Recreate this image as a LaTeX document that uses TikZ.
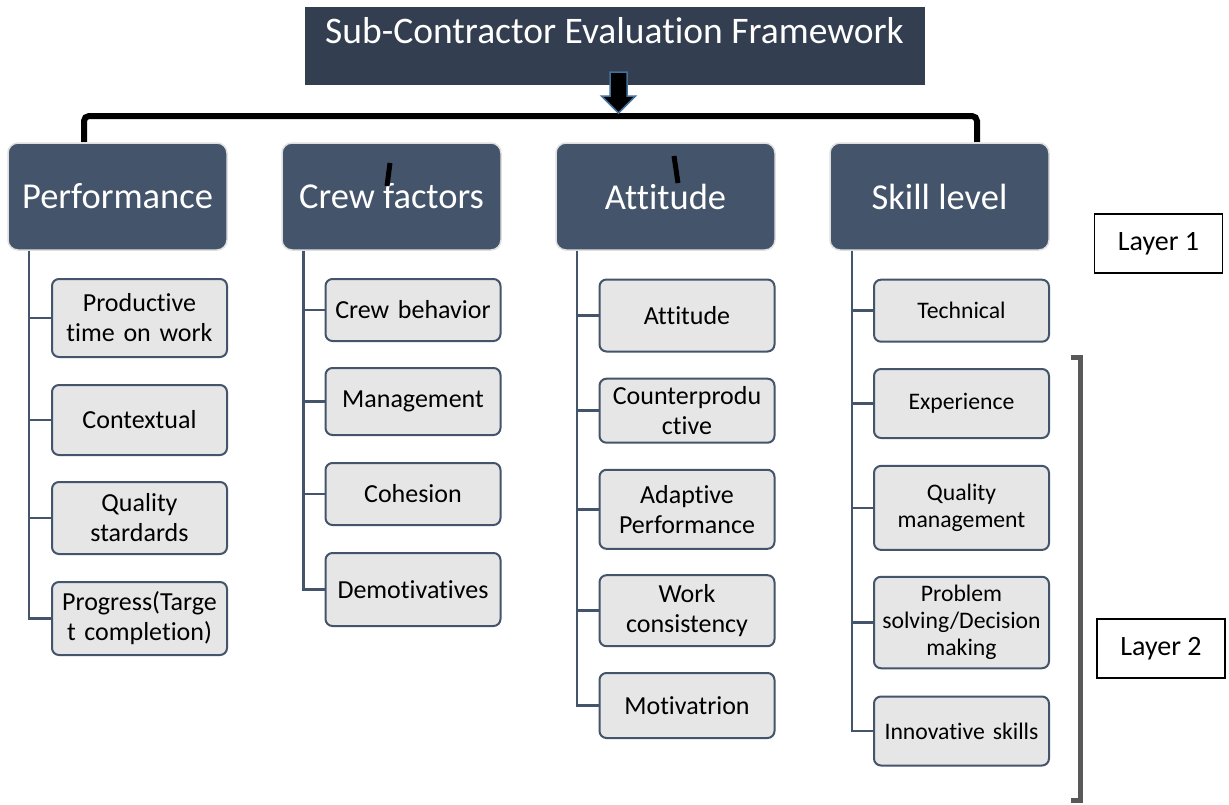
\documentclass[tikz,border=0pt]{standalone}
\usepackage{fontspec}
\setmainfont{Carlito}[Ligatures={NoCommon}]
\definecolor{hdrc}{HTML}{333F50}
\definecolor{catc}{HTML}{44546A}
\definecolor{itemc}{HTML}{E7E6E6}
\definecolor{arrowedge}{HTML}{41719C}
\definecolor{brk}{HTML}{595959}
\begin{document}
\begin{tikzpicture}[x=1pt,y=-1pt,
  hdr/.style={fill=hdrc,text=white,minimum width=620pt,minimum height=78pt,inner sep=0pt,
    text height=36pt,text depth=42pt,font=\fontsize{37.5}{44}\selectfont},
  cat/.style={fill=catc,draw=black!12,line width=1.5pt,rounded corners=10pt,text=white,
    minimum width=219pt,minimum height=107pt,inner sep=0pt,font=\fontsize{36.5}{44}\selectfont},
  item/.style={fill=itemc,draw=catc,line width=2pt,rounded corners=7pt,minimum width=175pt,
    inner sep=0pt,text width=172pt,align=center,font=\fontsize{26}{30}\selectfont},
  sitem/.style={item,font=\fontsize{23.7}{27}\selectfont},
  conn/.style={draw=catc,line width=2.5pt},
  bar/.style={draw=black,line width=6pt,rounded corners=5pt},
  tick/.style={draw=black,line width=5pt},
  layerbox/.style={draw=black,line width=1.5pt,minimum width=128pt,minimum height=59pt,
    inner sep=0pt,font=\fontsize{28}{34}\selectfont},
  bracket/.style={draw=brk,line width=5pt},
  blockarrow/.style={fill=black,draw=arrowedge,line width=1.5pt,line join=miter}
]
\useasboundingbox (0,0) rectangle (1229,804);
\fill[white] (0,0) rectangle (1229,804);

% header
\node[hdr] (H) at (614.5,46) {Sub-Contractor Evaluation Framework};

% bracket bar
\coordinate (bl) at (84,142);
\coordinate (br) at (977,142);
\draw[bar] (bl) -- (84,116) -- (977,116) -- (br);

% block arrow
\coordinate (at) at (618.5,113);
\draw[blockarrow] (610,72) -- (627,72) -- (627,96) -- (635.5,96) -- (at) -- (601.5,96) -- (610,96) -- cycle;

% categories
\node[cat] (P) at (117.5,196.5) {Performance};
\node[cat] (C) at (391.5,196.5) {Crew factors};
\node[cat] (A) at (665.5,196.5) {Attitude};
\node[cat] (S) at (939.5,196.5) {Skill level};

% stray marks
\draw[tick] (390,163) -- (387,186);
\draw[tick] (674,156) -- (678,183);

% Performance items
\node[item,minimum height=78pt] (p1) at (139.5,318) {Productive\\time on work};
\node[item,minimum height=70pt] (p2) at (139.5,420) {Contextual};
\node[item,minimum height=72pt] (p3) at (139.5,518) {Quality\\stardards};
\node[item,minimum height=73pt] (p4) at (139.5,618.5) {Progress(Targe\\t completion)};

% Crew items
\node[item,minimum height=62pt] (c1) at (413,310) {Crew behavior};
\node[item,minimum height=67pt] (c2) at (413,401.5) {Management};
\node[item,minimum height=62pt] (c3) at (413,494) {Cohesion};
\node[item,minimum height=73pt] (c4) at (413,589.5) {Demotivatives};

% Attitude items
\node[item,minimum height=72pt] (a1) at (687,315.5) {Attitude};
\node[item,minimum height=64pt] (a2) at (687,410.7) {Counterprodu\\ctive};
\node[item,minimum height=79pt] (a3) at (687,509.3) {Adaptive\\Performance};
\node[item,minimum height=71pt] (a4) at (687,610.7) {Work\\consistency};
\node[item,minimum height=65pt] (a5) at (687,705.5) {Motivatrion};

% Skill items
\node[sitem,minimum height=62pt] (s1) at (961.5,310.7) {Technical};
\node[sitem,minimum height=69pt] (s2) at (961.5,403.5) {Experience};
\node[sitem,minimum height=84pt] (s3) at (961.5,507.9) {Quality\\management};
\node[sitem,minimum height=91.5pt] (s4) at (961.5,622.5) {Problem\\solving/Decision\\making};
\node[sitem,minimum height=69pt] (s5) at (961.5,731) {Innovative skills};

% connectors
\coordinate (pv) at ([xshift=21.5pt]P.south west);
\coordinate (cv) at ([xshift=22pt]C.south west);
\coordinate (av) at ([xshift=21.5pt]A.south west);
\coordinate (sv) at ([xshift=22.5pt]S.south west);
\draw[conn] (pv) |- (p4.west);
\foreach \n in {p1,p2,p3} \draw[conn] (pv |- \n.west) -- (\n.west);
\draw[conn] (cv) |- (c4.west);
\foreach \n in {c1,c2,c3} \draw[conn] (cv |- \n.west) -- (\n.west);
\draw[conn] (av) |- (a5.west);
\foreach \n in {a1,a2,a3,a4} \draw[conn] (av |- \n.west) -- (\n.west);
\draw[conn] (sv) |- (s5.west);
\foreach \n in {s1,s2,s3,s4} \draw[conn] (sv |- \n.west) -- (\n.west);

% layer labels
\node[layerbox] (L1) at (1158.5,243.5) {Layer 1};
\node[layerbox] (L2) at (1161,648.5) {Layer 2};

% layer 2 bracket
\coordinate (bt) at (1071,357.5);
\coordinate (bb) at (1071,800);
\draw[bracket] (bt) -- (1080,357.5) -- (1080,800) -- (bb);
\end{tikzpicture}
\end{document}
